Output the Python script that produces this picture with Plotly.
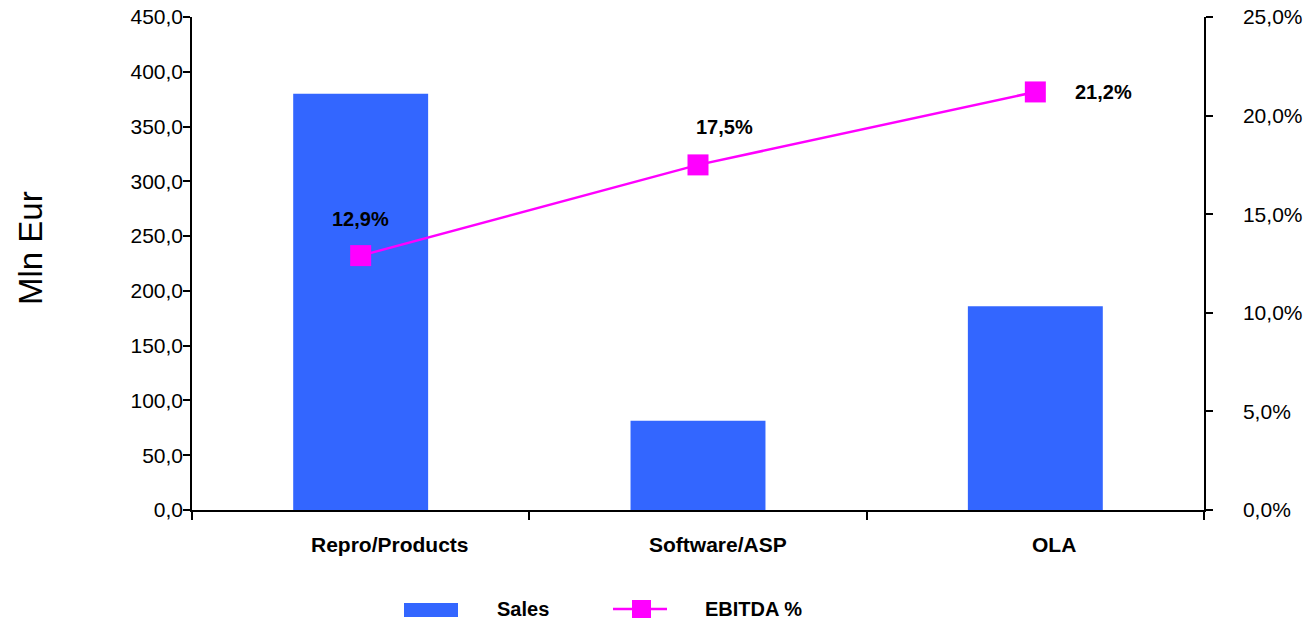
import plotly.graph_objects as go

categories = ["Repro/Products", "Software/ASP", "OLA"]
sales = [380.0, 81.5, 186.0]
ebitda_pct = [0.129, 0.175, 0.212]
ebitda_labels = ["12,9%", "17,5%", "21,2%"]

FONT = "Liberation Sans, Arial, sans-serif"
BLUE = "#3366FF"
MAGENTA = "#FF00FF"

# plot-area pixel geometry (for converting legend placement to paper coords)
L, R, T, B, W, H = 192, 102, 17, 109, 1306, 619
PW, PH = W - L - R, H - T - B


def px(x):
    return (x - L) / PW


def py(y):
    return (H - B - y) / PH


fig = go.Figure()
fig.add_trace(go.Bar(
    x=categories, y=sales, name="Sales", marker=dict(color=BLUE, line=dict(width=0)),
    width=0.40, yaxis="y", showlegend=False,
))
fig.add_trace(go.Scatter(
    x=categories, y=ebitda_pct, name="EBITDA %", yaxis="y2", mode="lines+markers",
    line=dict(color=MAGENTA, width=2.5),
    marker=dict(symbol="square", size=21, color=MAGENTA), showlegend=False,
))

# data labels (offsets per point as in the reference)
shifts = [(0, 37), (26, 38), (68, 0)]
for c, v, t, (dx, dy) in zip(categories, ebitda_pct, ebitda_labels, shifts):
    fig.add_annotation(x=c, y=v, yref="y2", text=f"<b>{t}</b>", showarrow=False,
                       xshift=dx, yshift=dy, font=dict(family=FONT, size=20, color="black"))

# category labels (slightly right of the category centres, as in the original)
cat_shifts = [29, 20, 19]
for c, dx in zip(categories, cat_shifts):
    fig.add_annotation(x=c, xref="x", y=0, yref="paper", yanchor="middle", text=f"<b>{c}</b>",
                       showarrow=False, xshift=dx, yshift=-34,
                       font=dict(family=FONT, size=21, color="black"))

# axis title
fig.add_annotation(xref="paper", yref="paper", x=px(30), y=py(248), text="Mln Eur", textangle=-90,
                   showarrow=False, xanchor="center", yanchor="middle",
                   font=dict(family=FONT, size=33, color="black"))

# legend (drawn below the chart like the original)
fig.add_shape(type="rect", xref="paper", yref="paper", x0=px(404), x1=px(458), y0=py(617), y1=py(603),
              fillcolor=BLUE, line=dict(width=0))
fig.add_annotation(xref="paper", yref="paper", x=px(495), y=py(609), xanchor="left", yanchor="middle",
                   text="<b>Sales</b>", showarrow=False, font=dict(family=FONT, size=20, color="black"))
fig.add_shape(type="line", xref="paper", yref="paper", x0=px(613), x1=px(667), y0=py(609), y1=py(609),
              line=dict(color=MAGENTA, width=2.5))
fig.add_shape(type="rect", xref="paper", yref="paper", x0=px(632), x1=px(651), y0=py(618), y1=py(600),
              fillcolor=MAGENTA, line=dict(width=0))
fig.add_annotation(xref="paper", yref="paper", x=px(703), y=py(609), xanchor="left", yanchor="middle",
                   text="<b>EBITDA %</b>", showarrow=False, font=dict(family=FONT, size=20, color="black"))

fig.update_layout(
    width=W, height=H,
    margin=dict(l=L, r=R, t=T, b=B),
    paper_bgcolor="white", plot_bgcolor="white",
    separators=",.",
    font=dict(family=FONT, size=21, color="black"),
    showlegend=False,
    xaxis=dict(
        automargin=False,
        showline=True, linecolor="black", linewidth=2,
        ticks="outside", tickson="boundaries", ticklen=8, tickcolor="black", tickwidth=1.5,
        showticklabels=False,
        showgrid=False, zeroline=False,
    ),
    yaxis=dict(
        automargin=False,
        range=[0, 450], dtick=50, tickformat=".1f",
        showline=True, linecolor="black", linewidth=1.5,
        ticks="outside", ticklen=7, tickcolor="black", tickwidth=1.5,
        tickfont=dict(family=FONT, size=21, color="black"),
        ticklabelstandoff=-4,
        showgrid=False, zeroline=False,
    ),
    yaxis2=dict(
        automargin=False,
        range=[0, 0.25], dtick=0.05, tickformat=".1%", overlaying="y", side="right",
        showline=True, linecolor="black", linewidth=1.5,
        ticks="outside", ticklen=7, tickcolor="black", tickwidth=1.5,
        tickfont=dict(family=FONT, size=21, color="black"),
        ticklabelstandoff=26,
        showgrid=False, zeroline=False,
    ),
)

fig.write_html("out.html")
